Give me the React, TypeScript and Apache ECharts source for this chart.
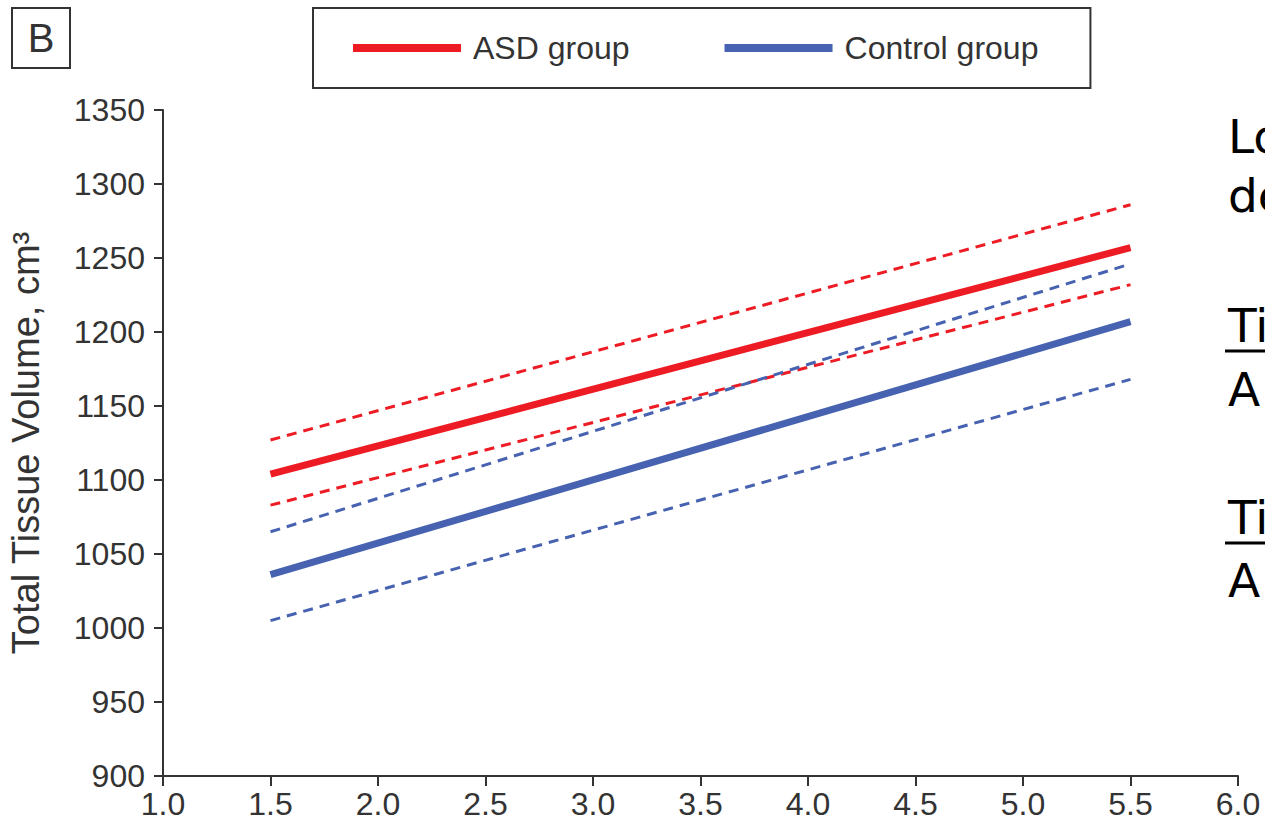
import React, { useEffect, useRef } from "react";
import * as echarts from "echarts";

const xStart = 1.5;
const xEnd = 5.5;
const asdMean = [1104, 1257];
const asdUpper = [1127, 1286];
const asdLower = [1083, 1232];
const ctrlMean = [1036, 1207];
const ctrlUpper = [1065, 1246];
const ctrlLower = [1005, 1168];
const xTicks = [1.0, 1.5, 2.0, 2.5, 3.0, 3.5, 4.0, 4.5, 5.0, 5.5, 6.0];
const yTicks = [900, 950, 1000, 1050, 1100, 1150, 1200, 1250, 1300, 1350];
const sideTexts = [
  { text: "Lo", y: 113, underline: 0 },
  { text: "de", y: 172, underline: 0 },
  { text: "Ti", y: 302, underline: 351 },
  { text: "A", y: 366, underline: 0 },
  { text: "Ti", y: 494, underline: 543 },
  { text: "A", y: 557, underline: 0 },
];

const RED = "#ED1C24";
const BLUE = "#4662B0";
const FONT = "'Liberation Sans Narrow', 'Liberation Sans', Arial, sans-serif";
const SANS = "'DejaVu Sans', sans-serif";
const INK = "#333";

const pts = (v: number[]) => [
  [xStart, v[0]],
  [xEnd, v[1]],
];

export default function App() {
  const ref = useRef<HTMLDivElement>(null);
  useEffect(() => {
    const chart = echarts.init(ref.current!, null, { renderer: "svg" });
    const solid = (name: string, color: string, v: number[]) => ({
      name,
      type: "line",
      data: pts(v),
      symbol: "none",
      lineStyle: { color, width: 7, cap: "butt" },
      itemStyle: { color },
      z: 3,
    });
    const dashed = (name: string, color: string, v: number[]) => ({
      name,
      type: "line",
      data: pts(v),
      symbol: "none",
      lineStyle: { color, width: 3, type: [10, 7] },
      itemStyle: { color },
      z: 2,
    });
    const side: any[] = [];
    sideTexts.forEach((t) => {
      side.push({
        type: "text",
        x: 1228,
        y: t.y,
        style: { text: t.text, fontSize: 47, fontFamily: SANS, fill: "#000" },
      });
      if (t.underline) {
        side.push({
          type: "line",
          shape: { x1: 1225, y1: t.underline, x2: 1265, y2: t.underline },
          style: { stroke: "#000", lineWidth: 3 },
        });
      }
    });
    chart.setOption({
      animation: false,
      grid: { left: 163, right: 27, top: 110, bottom: 59, containLabel: false, outerBoundsMode: "none" },
      legend: {
        data: ["ASD group", "Control group"],
        left: 313,
        top: 8,
        icon: "rect",
        itemWidth: 108,
        itemHeight: 8,
        itemGap: 95,
        padding: [24, 52, 24, 40],
        borderColor: INK,
        borderWidth: 2,
        textStyle: { fontSize: 32, fontFamily: FONT, color: INK, padding: [0, 0, 0, 7] },
      },
      xAxis: {
        type: "value",
        min: xTicks[0],
        max: xTicks[xTicks.length - 1],
        interval: 0.5,
        axisLine: { show: true, lineStyle: { color: INK, width: 2 } },
        axisTick: { show: true, length: 10, lineStyle: { color: INK, width: 2 } },
        splitLine: { show: false },
        axisLabel: {
          fontSize: 32,
          fontFamily: FONT,
          color: INK,
          margin: 12,
          formatter: (v: number) => v.toFixed(1),
          showMinLabel: true,
          showMaxLabel: true,
        },
      },
      yAxis: {
        type: "value",
        min: yTicks[0],
        max: yTicks[yTicks.length - 1],
        interval: 50,
        name: "Total Tissue Volume, cm³",
        nameLocation: "middle",
        nameGap: 118,
        nameTextStyle: { fontSize: 38, fontFamily: FONT, color: INK },
        axisLine: { show: true, lineStyle: { color: INK, width: 2 } },
        axisTick: { show: true, length: 9, lineStyle: { color: INK, width: 2 } },
        splitLine: { show: false },
        axisLabel: {
          fontSize: 32,
          fontFamily: FONT,
          color: INK,
          margin: 18,
          formatter: (v: number) => String(v),
        },
      },
      graphic: [
        {
          type: "rect",
          shape: { x: 12, y: 8, width: 58, height: 60 },
          style: { fill: "none", stroke: INK, lineWidth: 2 },
        },
        {
          type: "text",
          x: 41,
          y: 38,
          style: { text: "B", fontSize: 40, fontFamily: FONT, fill: INK, align: "center", verticalAlign: "middle" },
        },
        ...side,
      ],
      series: [
        solid("ASD group", RED, asdMean),
        dashed("ASD upper", RED, asdUpper),
        dashed("ASD lower", RED, asdLower),
        solid("Control group", BLUE, ctrlMean),
        dashed("Control upper", BLUE, ctrlUpper),
        dashed("Control lower", BLUE, ctrlLower),
      ],
    });
    return () => chart.dispose();
  }, []);
  return (
    <div
      ref={ref}
      style={{ position: "fixed", left: 0, top: 0, width: 1265, height: 835, background: "#fff" }}
    />
  );
}
